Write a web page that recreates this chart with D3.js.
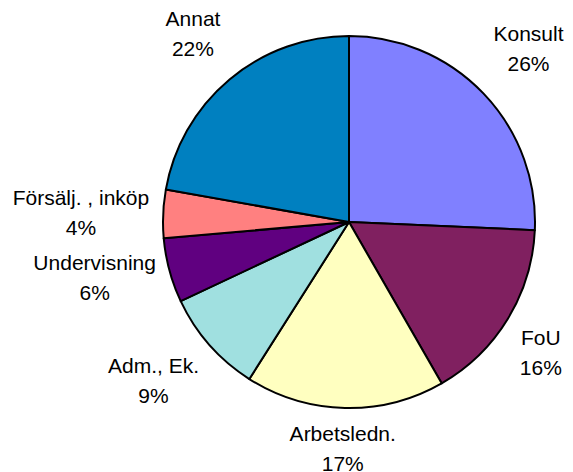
<!DOCTYPE html>
<html>
<head>
<meta charset="utf-8">
<script src="https://cdn.jsdelivr.net/npm/d3@7"></script>
<style>
  html, body { margin: 0; padding: 0; background: #fff; }
  #chart { width: 573px; height: 472px; }
</style>
</head>
<body>
<div id="chart"></div>
<script>
// data (andel i procent, medurs från kl 12)
const CATEGORIES = ["Konsult", "FoU", "Arbetsledn.", "Adm., Ek.", "Undervisning", "Försälj. , inköp", "Annat"];
const VALUES     = [25.7, 16.0, 17.3, 9.0, 5.6, 4.2, 22.2];
const COLORS     = ["#8080FF", "#802060", "#FFFFC0", "#A0E0E0", "#600080", "#FF8080", "#0080C0"];

const W = 573, H = 472;
const cx = 349, cy = 222, R = 186;
const FONT = 21, LINE = 30, GAP = 14;

const svg = d3.select("#chart")
  .append("svg")
  .attr("width", W)
  .attr("height", H);

const data = CATEGORIES.map((c, i) => ({ name: c, value: VALUES[i], color: COLORS[i] }));
const total = d3.sum(VALUES);

const pie = d3.pie()
  .value(d => d.value)
  .sort(null);

const arc = d3.arc()
  .innerRadius(0)
  .outerRadius(R);

const arcs = pie(data);

const g = svg.append("g")
  .attr("transform", `translate(${cx},${cy})`);

// tårtbitar
g.selectAll("path")
  .data(arcs)
  .enter()
  .append("path")
  .attr("d", arc)
  .attr("fill", d => d.data.color)
  .attr("stroke", "#000")
  .attr("stroke-width", 2)
  .attr("stroke-linejoin", "round");

// etiketter utanför
const labels = g.selectAll(".lbl")
  .data(arcs)
  .enter()
  .append("text")
  .attr("class", "lbl")
  .attr("text-anchor", "middle")
  .attr("font-family", "Liberation Sans, Arial, sans-serif")
  .attr("font-size", FONT + "px")
  .attr("fill", "#000");

labels.append("tspan")
  .attr("x", 0)
  .attr("dy", 0)
  .text(d => d.data.name);

labels.append("tspan")
  .attr("x", 0)
  .attr("dy", LINE)
  .text(d => Math.round(d.data.value / total * 100) + "%");

const clamp = v => Math.max(-1, Math.min(1, v));

// placera etikettens låda längs mittvinkeln (hörnet närmast tårtan)
labels.each(function(d) {
  const a = (d.startAngle + d.endAngle) / 2;
  const bb = this.getBBox();
  const s = Math.sin(a), c = -Math.cos(a);
  const fy = clamp(2 * c);
  let bx = (R + GAP) * s + clamp(1.6 * s) * bb.width / 2;
  let by = (R + GAP) * c + Math.sign(fy) * Math.pow(Math.abs(fy), 3) * bb.height / 2;
  if (c < 0) by += c * 12;
  const ox = bx - (bb.x + bb.width / 2);
  const oy = by - (bb.y + bb.height / 2);
  d3.select(this).attr("transform", `translate(${ox},${oy})`);
});
</script>
</body>
</html>
